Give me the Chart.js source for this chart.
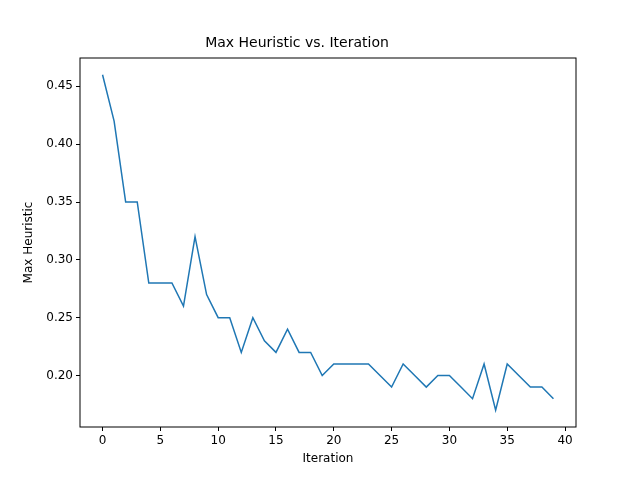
<!DOCTYPE html>
<html>
<head>
<script src="https://cdn.jsdelivr.net/npm/chart.js@4"></script>
<style>body{margin:0;background:#fff}</style>
</head>
<body>
<canvas id="c" width="640" height="480"></canvas>
<script>
const iterations = [...Array(40).keys()];
const maxHeuristic = [0.46,0.42,0.35,0.35,0.28,0.28,0.28,0.26,0.32,0.27,
  0.25,0.25,0.22,0.25,0.23,0.22,0.24,0.22,0.22,0.20,
  0.21,0.21,0.21,0.21,0.20,0.19,0.21,0.20,0.19,0.20,
  0.20,0.19,0.18,0.21,0.17,0.21,0.20,0.19,0.19,0.18];
const xTicks = [0,5,10,15,20,25,30,35,40];
const yTicks = [0.20,0.25,0.30,0.35,0.40,0.45];

// draw the box around the plot area
const frame = {
  id: 'frame',
  afterDraw(chart) {
    const {ctx, chartArea: a} = chart;
    ctx.save();
    ctx.strokeStyle = '#000';
    ctx.lineWidth = 1;
    ctx.strokeRect(a.left, a.top, a.right - a.left, a.bottom - a.top);
    ctx.restore();
  }
};

const tickOpts = {color: '#000', font: {family: 'DejaVu Sans', size: 12}};
const gridOpts = {drawOnChartArea: false, color: '#000', tickLength: 4, tickColor: '#000'};

new Chart(document.getElementById('c'), {
  type: 'line',
  data: {
    datasets: [{
      data: iterations.map((x, i) => ({x: x, y: maxHeuristic[i]})),
      borderColor: '#1f77b4',
      borderWidth: 1.5,
      pointRadius: 0,
      tension: 0
    }]
  },
  options: {
    responsive: false,
    animation: false,
    layout: {padding: {left: 18, right: 64, top: 0, bottom: 10}},
    plugins: {
      legend: {display: false},
      tooltip: {enabled: false},
      title: {
        display: true,
        text: 'Max Heuristic vs. Iteration',
        color: '#000',
        font: {family: 'DejaVu Sans', size: 14, weight: 'normal'},
        padding: {top: 35, bottom: 6.2}
      }
    },
    scales: {
      x: {
        type: 'linear',
        min: -1.95, max: 40.95,
        afterBuildTicks: s => { s.ticks = xTicks.map(v => ({value: v})); },
        afterFit: s => { s.height = 43; },
        ticks: tickOpts,
        grid: gridOpts,
        border: {display: false},
        title: {display: true, text: 'Iteration', color: '#000', font: {family: 'DejaVu Sans', size: 12}, padding: {top: 2}}
      },
      y: {
        min: 0.1555, max: 0.4745,
        afterBuildTicks: s => { s.ticks = yTicks.map(v => ({value: v})); },
        afterFit: s => { s.width = 62; },
        ticks: {...tickOpts, callback: v => v.toFixed(2)},
        grid: gridOpts,
        border: {display: false},
        title: {display: true, text: 'Max Heuristic', color: '#000', font: {family: 'DejaVu Sans', size: 12}}
      }
    }
  },
  plugins: [frame]
});
</script>
</body>
</html>
